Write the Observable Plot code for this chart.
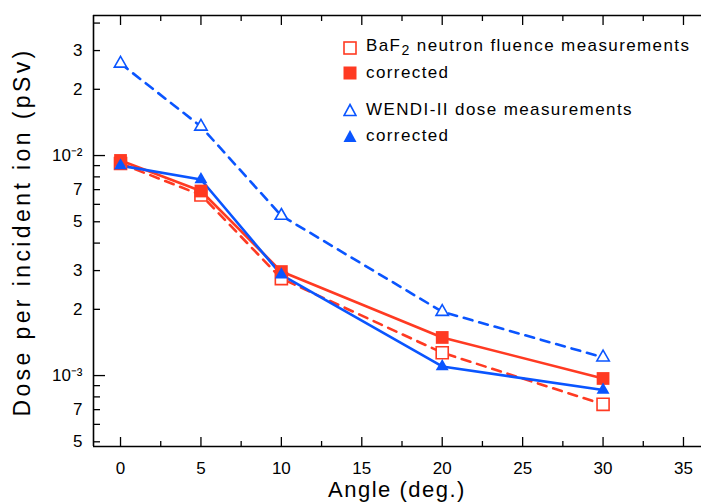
<!DOCTYPE html>
<html><head><meta charset="utf-8">
<script src="https://cdn.jsdelivr.net/npm/d3@7"></script>
<script src="https://cdn.jsdelivr.net/npm/@observablehq/plot@0.6"></script>
<style>
body{margin:0;background:#fff;}
#wrap{position:relative;width:701px;height:502px;font-family:"Liberation Sans",Arial,sans-serif;color:#000;overflow:hidden;}
#wrap svg{position:absolute;left:0;top:0;}
.leg{position:absolute;left:343px;font-size:17px;letter-spacing:1.4px;line-height:20px;white-space:nowrap;}
.leg svg{position:static !important;vertical-align:middle;margin-right:9px;}
#xt{position:absolute;left:93px;width:608px;top:479px;line-height:22px;text-align:center;font-size:22px;letter-spacing:1.5px;}
#yt{position:absolute;left:22px;top:232px;line-height:24px;transform:translate(-50%,-50%) rotate(-90deg);font-size:23px;letter-spacing:3.4px;white-space:nowrap;}
</style></head>
<body><div id="wrap"></div>
<script>
const angles = [0, 5, 10, 20, 30];
const bafMeasured = [0.0092, 0.00662, 0.00276, 0.00127, 0.00074];
const bafCorrected = [0.0095, 0.00690, 0.00297, 0.00149, 0.00097];
const wendiMeasured = [0.0262, 0.01355, 0.00533, 0.00195, 0.00121];
const wendiCorrected = [0.0090, 0.00778, 0.00287, 0.00110, 0.00086];
const legendLabels = ["BaF<sub>2</sub> neutron fluence measurements", "corrected", "WENDI-II dose measurements", "corrected"];
const xMajorTicks = [0, 5, 10, 15, 20, 25, 30, 35];
const xMinorTicks = [2.5, 7.5, 12.5, 17.5, 22.5, 27.5, 32.5];
const yDecadeTicks = [0.001, 0.01];
const yMinorTicks = [0.0005, 0.0006, 0.0007, 0.0008, 0.0009, 0.002, 0.003, 0.004, 0.005, 0.006, 0.007, 0.008, 0.009, 0.02, 0.03, 0.04];
const yLabelValues = [0.0005, 0.0007, 0.001, 0.002, 0.003, 0.005, 0.007, 0.01, 0.02, 0.03];
const yLabelText = ["5", "7", "10\u207B\u00B3", "2", "3", "5", "7", "10\u207B\u00B2", "2", "3"];
const xDomain = [-1.68, 36.12];
const yDomain = [0.000476, 0.0433];

const RED = "#ff3a22", BLUE = "#0a55ff";
const mk = (ys) => angles.map((a, i) => ({angle: a, dose: ys[i]}));
const bm = mk(bafMeasured), bc = mk(bafCorrected), wm = mk(wendiMeasured), wc = mk(wendiCorrected);
const yLabels = yLabelValues.map((v, i) => ({v, t: yLabelText[i]}));

const plot = Plot.plot({
  width: 701, height: 502,
  marginLeft: 93, marginRight: 0, marginTop: 15, marginBottom: 56,
  style: {fontFamily: "Liberation Sans, Arial, sans-serif", fontSize: "17px", color: "#000", background: "transparent", overflow: "visible"},
  x: {domain: xDomain, label: null},
  y: {type: "log", domain: yDomain, label: null, axis: null},
  marks: [
    Plot.ruleX([xDomain[0]], {stroke: "#000", strokeWidth: 1.6}),
    Plot.ruleY([yDomain[0], yDomain[1]], {stroke: "#000", strokeWidth: 1.6}),
    Plot.axisX(xMajorTicks, {anchor: "bottom", tickSize: -9, tickPadding: 24, tickFormat: d => String(d), fontSize: 17, label: null, strokeWidth: 1.3}),
    Plot.axisX(xMinorTicks, {anchor: "bottom", tickSize: -5, tickFormat: () => "", label: null, strokeWidth: 1.3}),
    Plot.axisX(xMajorTicks, {anchor: "top", tickSize: -9, tickFormat: () => "", label: null, strokeWidth: 1.3}),
    Plot.axisX(xMinorTicks, {anchor: "top", tickSize: -5, tickFormat: () => "", label: null, strokeWidth: 1.3}),
    Plot.axisY(yDecadeTicks, {anchor: "left", tickSize: -12, tickFormat: () => "", label: null, strokeWidth: 1.3}),
    Plot.axisY(yMinorTicks, {anchor: "left", tickSize: -7, tickFormat: () => "", label: null, strokeWidth: 1.3}),
    Plot.text(yLabels, {y: "v", text: "t", frameAnchor: "left", textAnchor: "end", dx: -11, fontSize: 17, fill: "#000"}),
    Plot.line(wm, {x: "angle", y: "dose", stroke: BLUE, strokeWidth: 2.6, strokeDasharray: "9,7"}),
    Plot.line(bm, {x: "angle", y: "dose", stroke: RED, strokeWidth: 2.6, strokeDasharray: "9,7"}),
    Plot.line(bc, {x: "angle", y: "dose", stroke: RED, strokeWidth: 2.6}),
    Plot.line(wc, {x: "angle", y: "dose", stroke: BLUE, strokeWidth: 2.6}),
    Plot.dot(bm, {x: "angle", y: "dose", symbol: "square", r: 6.8, fill: "white", stroke: RED, strokeWidth: 1.6}),
    Plot.dot(bc, {x: "angle", y: "dose", symbol: "square", r: 7.2, fill: RED, stroke: "none"}),
    Plot.dot(wm, {x: "angle", y: "dose", symbol: "triangle", r: 4.6, fill: "white", stroke: BLUE, strokeWidth: 1.6}),
    Plot.dot(wc, {x: "angle", y: "dose", symbol: "triangle", r: 4.8, fill: BLUE, stroke: "none"})
  ]
});
const wrap = document.getElementById("wrap");
wrap.appendChild(plot);

const sqOpen = `<svg width="14" height="14"><rect x="1" y="1" width="12" height="12" fill="white" stroke="${RED}" stroke-width="1.6"/></svg>`;
const sqFill = `<svg width="14" height="14"><rect x="0.5" y="0.5" width="13" height="13" fill="${RED}"/></svg>`;
const trOpen = `<svg width="14" height="14"><path d="M7,1.5 L13,12.5 L1,12.5 Z" fill="white" stroke="${BLUE}" stroke-width="1.6"/></svg>`;
const trFill = `<svg width="14" height="14"><path d="M7,1 L13.5,13 L0.5,13 Z" fill="${BLUE}"/></svg>`;
const symbols = [sqOpen, sqFill, trOpen, trFill];
const rowTops = [36, 62, 99, 125];
legendLabels.forEach((t, i) => {
  const d = document.createElement("div");
  d.className = "leg";
  d.style.top = rowTops[i] + "px";
  d.innerHTML = symbols[i] + `<span style="vertical-align:middle">${t}</span>`;
  wrap.appendChild(d);
});
const xt = document.createElement("div"); xt.id = "xt"; xt.textContent = "Angle (deg.)"; wrap.appendChild(xt);
const yt = document.createElement("div"); yt.id = "yt"; yt.textContent = "Dose per incident ion (pSv)"; wrap.appendChild(yt);
</script>
</body></html>
